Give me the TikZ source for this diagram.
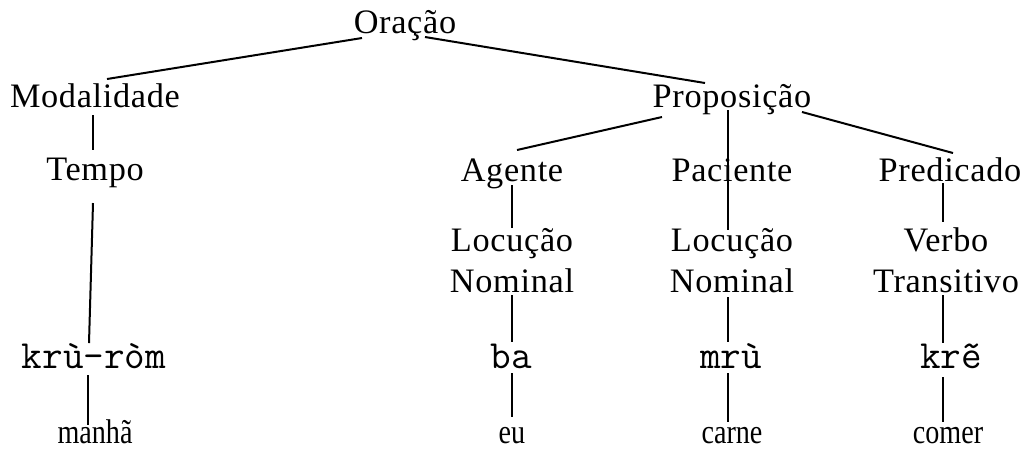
\documentclass[tikz,border=0pt]{standalone}
\usepackage{fontspec}
\setmainfont{Liberation Serif}
\newfontfamily\catfont[LetterSpace=2]{Liberation Serif}
\newfontfamily\glossfont[FakeStretch=0.82]{Liberation Serif}
\usetikzlibrary{calc}

\begin{document}
\begin{tikzpicture}[x=0.35pt,y=-0.35pt,
  cat/.style={inner sep=0pt,anchor=base,align=center,font=\catfont\fontsize{12}{14.2}\selectfont},
  word/.style={inner sep=0pt,anchor=base,font=\ttfamily\fontsize{14}{16}\selectfont},
  gloss/.style={inner sep=0pt,anchor=base,font=\glossfont\fontsize{12}{14}\selectfont},
  branch/.style={line width=0.7pt}]
\useasboundingbox (0,0) rectangle (1029,449);

% Categories
\node[cat] (orac) at (405,33) {Oração};
\node[cat] (modal) at (95,107) {Modalidade};
\node[cat] (prop) at (732,107) {Proposição};
\node[cat] (tempo) at (95,180) {Tempo};
\node[cat] (agente) at (512,181) {Agente};
\node[cat] (pac) at (732,181) {Paciente};
\node[cat] (pred) at (950,181) {Predicado};
% two-line nodes: base is the last line
\node[cat] (locnomA) at (512,292) {Locução\\Nominal};
\node[cat] (locnomB) at (732,292) {Locução\\Nominal};
\node[cat] (verbo) at (946,292) {Verbo\\Transitivo};

% Words
\node[word] (kru) at (94,368) {krù-ròm};
\node[word] (ba) at (511,368) {ba};
\node[word] (mru) at (731,368) {mrù};
\node[word] (kre) at (951,368) {krẽ};

% Glosses
\node[gloss] (manha) at (95,443) {manhã};
\node[gloss] (eu) at (512,443) {eu};
\node[gloss] (carne) at (732,443) {carne};
\node[gloss] (comer) at (948,443) {comer};

% Branches
\draw[branch] ($(orac.base)+(-43,5)$) -- ($(modal.base)+(12,-28)$);
\draw[branch] ($(orac.base)+(20,4)$) -- ($(prop.base)+(-27,-24)$);
\draw[branch] ($(modal.base)+(-2,8)$) -- ($(tempo.base)+(-2,-30)$);
\draw[branch] ($(tempo.base)+(-2,23)$) -- ($(kru.base)+(-5,-25)$);
\draw[branch] ($(kru.base)+(-6,7)$) -- ($(manha.base)+(-7,-18)$);

\draw[branch] ($(prop.base)+(-70,10)$) -- ($(agente.base)+(5,-31)$);
\draw[branch] ($(prop.base)+(-4,3)$) -- ($(pac.base)+(-4,0)$);
\draw[branch] ($(pac.base)+(-4,0)$) -- ($(locnomB.base)+(-4,-62)$);
\draw[branch] ($(prop.base)+(70,5)$) -- ($(pred.base)+(3,-28)$);

\draw[branch] ($(agente.base)+(0,4)$) -- ($(locnomA.base)+(0,-64)$);
\draw[branch] ($(pred.base)+(-7,2)$) -- ($(verbo.base)+(-3,-70)$);

\draw[branch] ($(locnomA.base)+(0,3)$) -- ($(ba.base)+(1,-26)$);
\draw[branch] ($(ba.base)+(1,5)$) -- ($(eu.base)+(0,-26)$);
\draw[branch] ($(locnomB.base)+(-4,5)$) -- ($(mru.base)+(-3,-26)$);
\draw[branch] ($(mru.base)+(-3,5)$) -- ($(carne.base)+(-4,-21)$);
\draw[branch] ($(verbo.base)+(-3,3)$) -- ($(kre.base)+(-8,-25)$);
\draw[branch] ($(kre.base)+(-8,9)$) -- ($(comer.base)+(-5,-21)$);
\end{tikzpicture}
\end{document}
